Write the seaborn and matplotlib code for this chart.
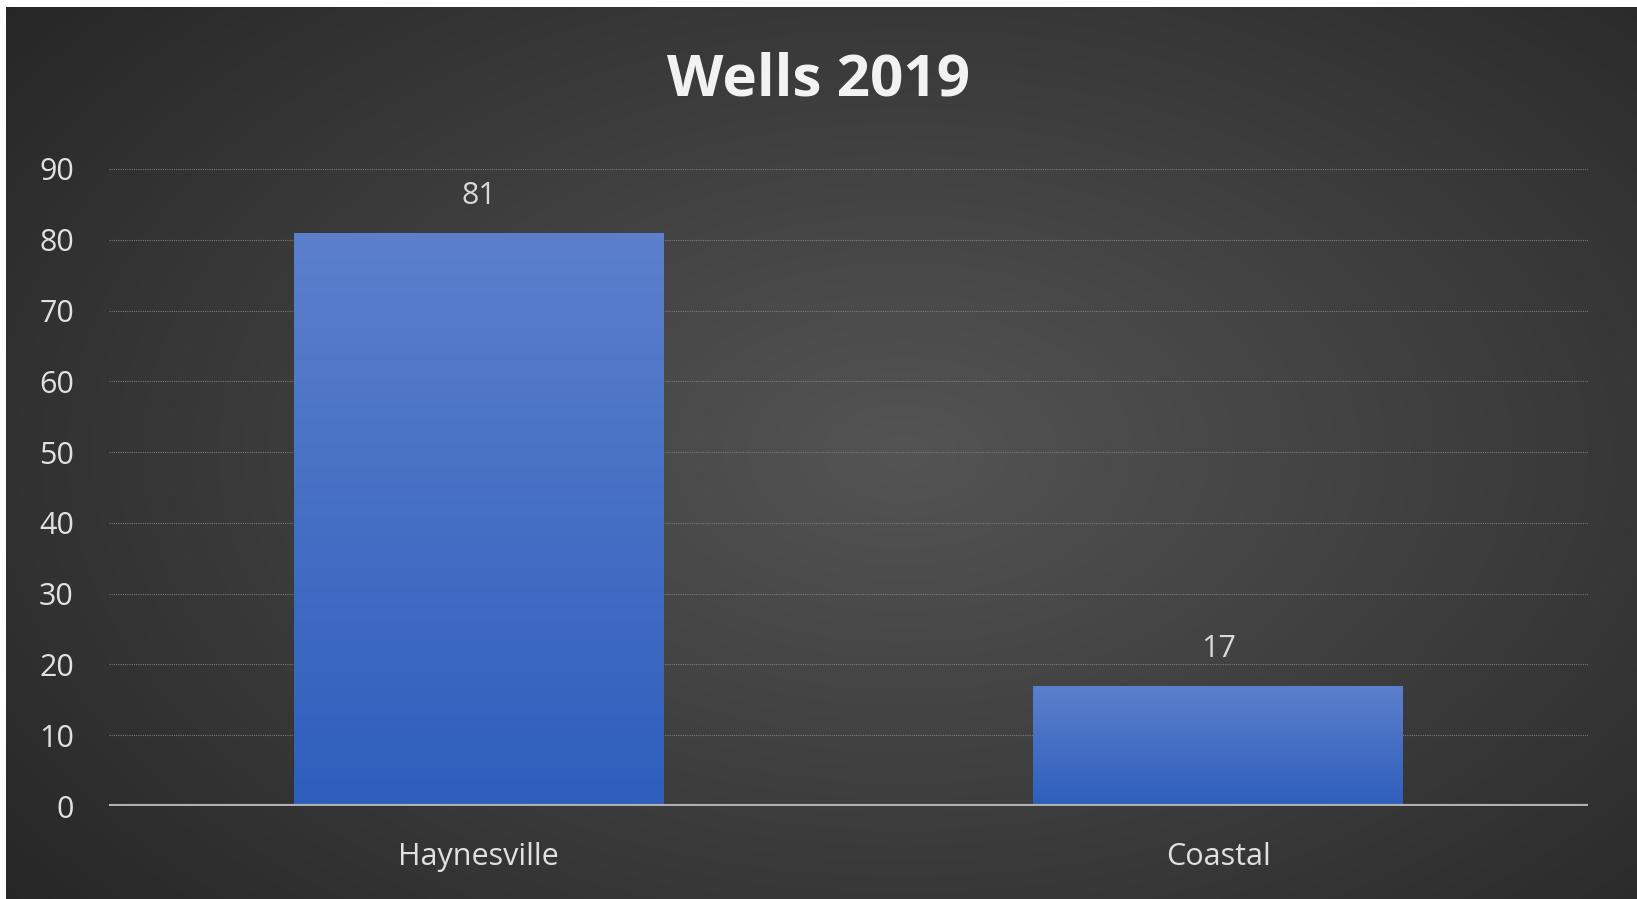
import numpy as np
import pandas as pd
import matplotlib
matplotlib.use("Agg")
import matplotlib.pyplot as plt
import seaborn as sns

# Daten
regions = ["Haynesville", "Coastal"]
wells = [81, 17]
title = "Wells 2019"
y_ticks = [0, 10, 20, 30, 40, 50, 60, 70, 80, 90]

df = pd.DataFrame({"region": regions, "wells": wells})

sns.set_style("dark")
plt.rcParams['font.family'] = ['Open Sans', 'DejaVu Sans']

W, H, DPI = 1637, 899, 100
fig = plt.figure(figsize=(W / DPI, H / DPI), dpi=DPI)
fig.patch.set_facecolor("white")

# Hintergrund: radialer Verlauf (dunkelgrau), weißer Rand oben/links
bg_ax = fig.add_axes([6 / W, 0, 1 - 6 / W, 1 - 7 / H])
bg_ax.set_axis_off()
yy, xx = np.mgrid[0:1:400j, 0:1:700j]
r = np.sqrt(((xx - 0.55) / 0.75) ** 2 + ((yy - 0.5) / 0.85) ** 2)
shade = np.clip(0.33 - 0.19 * r, 0.15, 0.33)
bg = np.dstack([shade, shade, shade])
bg_ax.imshow(bg, aspect="auto", extent=[0, 1, 0, 1], interpolation="bicubic")

# Diagrammfläche
left, right = 108.6 / W, 1588 / W
bottom, top = 1 - 806 / H, 1 - 169 / H
ax = fig.add_axes([left, bottom, right - left, top - bottom])
ax.patch.set_alpha(0)

sns.barplot(data=df, x="region", y="wells", ax=ax, width=0.5,
            color="#4472c4", saturation=1, linewidth=0, zorder=3)
ax.set_xlim(-0.5, 1.5)
ax.set_ylim(0, 90)
ax.set_yticks(y_ticks)

# Farbverlauf in den Balken
grad = np.linspace(0, 1, 256).reshape(-1, 1)
top_c = np.array([0.36, 0.50, 0.80])
bot_c = np.array([0.18, 0.37, 0.74])
for p in ax.patches:
    x0, w = p.get_x(), p.get_width()
    h = p.get_height()
    img = (bot_c + (top_c - bot_c) * grad).reshape(256, 1, 3)
    im = ax.imshow(img, extent=[x0, x0 + w, 0, h], origin="lower",
                   aspect="auto", zorder=4)
    im.set_clip_path(p)
    ax.annotate(f"{int(h)}", (x0 + w / 2, h), xytext=(0, 21),
                textcoords="offset points", ha="center", va="baseline",
                fontsize=22, color="#d9d9d9")
ax.set_aspect("auto")
ax.set_xlim(-0.5, 1.5)
ax.set_ylim(0, 90)

# Gitterlinien
ax.grid(axis="y", color="#7a7a7a", linestyle=(0, (1, 1)), linewidth=0.8, zorder=1)
ax.grid(axis="x", visible=False)
ax.axhline(0, color="#b0b0b0", linewidth=3, zorder=5)
for s in ax.spines.values():
    s.set_visible(False)

ax.set_xlabel("")
ax.set_ylabel("")
ax.tick_params(axis="both", length=0, colors="#e0e0e0", labelsize=22)
ax.tick_params(axis="y", pad=25)
ax.tick_params(axis="x", pad=26)

fig.text(0.5, 1 - 81 / H, title, ha="center", va="center",
         fontsize=42, fontweight="bold", color="#f2f2f2")

plt.savefig("out.png", dpi=DPI)
